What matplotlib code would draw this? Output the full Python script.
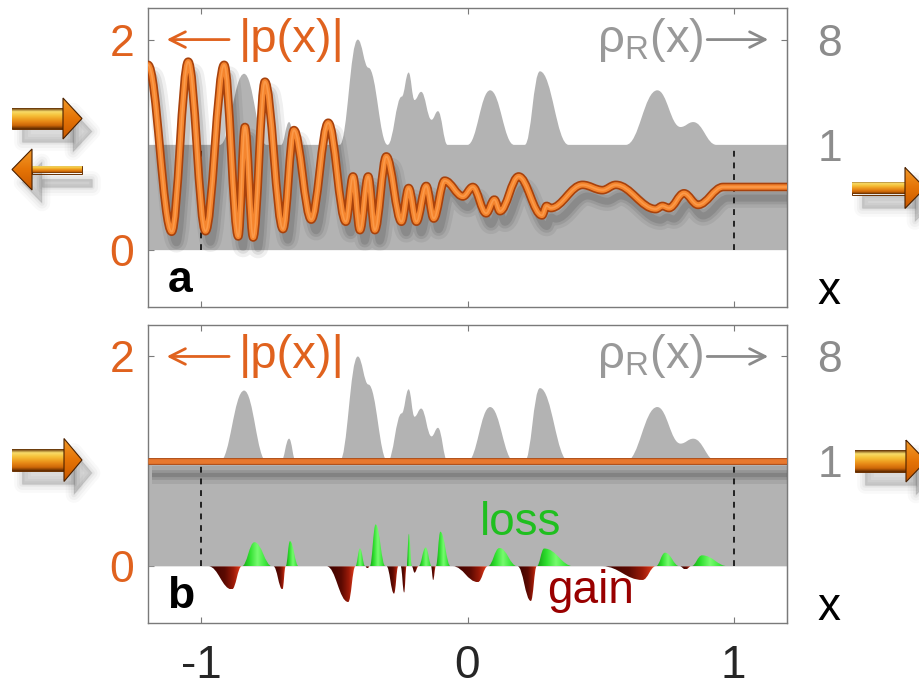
import numpy as np
import matplotlib.pyplot as plt
from matplotlib.path import Path
from matplotlib.patches import PathPatch, Polygon
from matplotlib.colors import LinearSegmentedColormap
import matplotlib.patheffects as pe

plt.rcParams['font.family'] = ['Liberation Sans', 'DejaVu Sans']
plt.rcParams['mathtext.fontset'] = 'custom'
plt.rcParams['mathtext.rm'] = 'Liberation Sans'
plt.rcParams['axes.unicode_minus'] = False

# |p(x)| in panel a, turning points
p_x = [-1.200, -1.111, -1.049, -0.984, -0.914, -0.861, -0.836, -0.805, -0.761, -0.693,
       -0.652, -0.587, -0.523, -0.457, -0.430, -0.404, -0.373, -0.348, -0.305, -0.248,
       -0.221, -0.192, -0.155, -0.127, -0.086, -0.017, 0.020, 0.070, 0.101, 0.122,
       0.192, 0.280, 0.297, 0.313, 0.432, 0.507, 0.557, 0.707, 0.732, 0.757,
       0.813, 0.866, 0.960, 1.200]
p_y = [1.76, 0.175, 1.79, 0.18, 1.76, 0.13, 1.17, 0.12, 1.60, 0.20,
       1.14, 0.29, 1.21, 0.27, 0.70, 0.19, 0.70, 0.19, 0.89, 0.27,
       0.59, 0.27, 0.61, 0.30, 0.66, 0.51, 0.60, 0.35, 0.48, 0.37,
       0.70, 0.33, 0.42, 0.40, 0.62, 0.57, 0.62, 0.39, 0.42, 0.40,
       0.54, 0.43, 0.60, 0.60]

# |p(x)| in panel b
pb_x = [-1.2, 1.2]
pb_y = [1.0, 1.0]

# rho_R(x), turning points of the profile (right axis is cube-root scaled)
rho_x = [-1.2, -0.93, -0.839, -0.755, -0.700, -0.670, -0.645, -0.480, -0.412, -0.372,
         -0.300, -0.247, -0.221, -0.199, -0.174, -0.135, -0.111, -0.075, 0.000, 0.085,
         0.175, 0.215, 0.272, 0.380, 0.595, 0.713, 0.800, 0.848, 0.935, 1.2]
rho_r = [1.0, 1.0, 4.7, 1.0, 1.0, 1.8, 1.0, 1.0, 8.0, 5.2,
         1.0, 3.1, 4.8, 2.9, 3.4, 1.9, 2.3, 1.0, 1.0, 3.5,
         1.0, 1.0, 4.9, 1.0, 1.0, 3.5, 1.6, 1.8, 1.0, 1.0]

# gain (<0) / loss (>0) lobes in panel b: start, peak, end, height
lobe_x0 = [-0.973, -0.848, -0.729, -0.683, -0.529, -0.421, -0.384, -0.367, -0.304, -0.251,
           -0.229, -0.209, -0.184, -0.137, -0.119, -0.055, 0.076, 0.188, 0.260, 0.507,
           0.707, 0.797, 0.840]
lobe_xp = [-0.885, -0.800, -0.695, -0.667, -0.448, -0.404, -0.376, -0.345, -0.276, -0.238,
           -0.220, -0.199, -0.157, -0.129, -0.102, 0.039, 0.120, 0.238, 0.288, 0.657,
           0.742, 0.819, 0.881]
lobe_x1 = [-0.848, -0.733, -0.683, -0.634, -0.421, -0.384, -0.367, -0.308, -0.260, -0.229,
           -0.209, -0.184, -0.134, -0.119, -0.063, 0.076, 0.188, 0.260, 0.400, 0.707,
           0.797, 0.840, 0.980]
lobe_h = [-0.22, 0.23, -0.22, 0.24, -0.34, 0.17, -0.02, 0.40, -0.26, -0.25,
          0.31, -0.06, 0.18, -0.13, 0.33, -0.15, 0.175, -0.33, 0.17, -0.13,
          0.13, -0.03, 0.105]

orange = '#e0621e'
band = '#b3b3b3'
grey_txt = '#8c8c8c'


def smooth(xs, ys, k=0.38):
    verts = [(xs[0], ys[0])]
    codes = [Path.MOVETO]
    for i in range(1, len(xs)):
        d = k * (xs[i] - xs[i - 1])
        verts += [(xs[i - 1] + d, ys[i - 1]), (xs[i] - d, ys[i]), (xs[i], ys[i])]
        codes += [Path.CURVE4] * 3
    return verts, codes


def grad_clip(ax, patch, colors, extent, vertical=False, z=3, origin='lower'):
    cmap = LinearSegmentedColormap.from_list('g', colors)
    arr = np.linspace(0, 1, 128)
    arr = arr.reshape(-1, 1) if vertical else arr.reshape(1, -1)
    im = ax.imshow(arr, cmap=cmap, extent=extent, aspect='auto', origin=origin,
                   interpolation='bilinear', zorder=z)
    im.set_clip_path(patch)


fig = plt.figure(figsize=(9.19, 6.89), dpi=100)
axa = fig.add_axes([148 / 919, 1 - 307 / 689, 639 / 919, 299 / 689])
axb = fig.add_axes([148 / 919, 1 - 623 / 689, 639 / 919, 298 / 689])

for ax, lab in [(axa, 'a'), (axb, 'b')]:
    ax.set_xlim(-1.2, 1.2)
    ax.set_ylim(-0.54, 2.30)
    ax.set_axisbelow(True)
    for s in ax.spines.values():
        s.set_color('#7a7a7a')
        s.set_linewidth(1.0)

    # rho_R profile as grey area from 0
    v, c = smooth(rho_x, list(np.cbrt(rho_r)), k=0.42)
    c[0] = Path.LINETO
    verts = [(-1.2, 0)] + v + [(1.2, 0), (-1.2, 0)]
    codes = [Path.MOVETO] + c + [Path.LINETO, Path.CLOSEPOLY]
    ax.add_patch(PathPatch(Path(verts, codes), facecolor=band, edgecolor='none', zorder=1))

    # boundaries of scattering region
    ax.plot([-1, -1], [0, 1], ls=(0, (3, 3)), color='#222222', lw=1.4, zorder=2)
    ax.plot([1, 1], [0, 1], ls=(0, (3, 3)), color='#222222', lw=1.4, zorder=2)

    ax.set_xticks([-1, 0, 1])
    ax.set_yticks([0, 2])
    ax.set_yticklabels(['0', '2'])
    ax.tick_params(axis='x', top=True, bottom=True, direction='in', length=4,
                   color='#7a7a7a', labelsize=33, labelcolor='#262626', pad=15)
    ax.tick_params(axis='y', left=True, right=False, direction='in', length=4,
                   color='#7a7a7a', labelsize=32, labelcolor=orange, pad=10)

    sec = ax.secondary_yaxis('right', functions=(lambda h: h ** 3, lambda r: np.cbrt(r)))
    sec.set_yticks([1, 8])
    sec.set_yticklabels(['1', '8'])
    sec.yaxis.set_minor_locator(plt.NullLocator())
    sec.tick_params(direction='in', length=4, color='#7a7a7a', labelsize=32,
                    labelcolor=grey_txt, pad=22)
    sec.spines['right'].set_color('#7a7a7a')
    t0 = sec.yaxis.get_major_ticks()[0]
    t0.tick1line.set_visible(False)
    t0.tick2line.set_visible(False)

    # labels
    ax.annotate('', xy=(-1.14, 2.0), xytext=(-0.885, 2.0),
                arrowprops=dict(arrowstyle='->', color=orange, lw=2, mutation_scale=28))
    ax.text(-0.858, 2.0, '|p(x)|', color=orange, fontsize=34, va='center', ha='left')
    ax.text(0.487, 2.0, 'ρ$_\\mathregular{R}$(x)', color='#999999', fontsize=34,
            va='center', ha='left')
    ax.annotate('', xy=(1.14, 2.0), xytext=(0.89, 2.0),
                arrowprops=dict(arrowstyle='->', color='#8a8a8a', lw=2, mutation_scale=28))
    ax.text(-1.127, -0.40, lab, fontsize=32, fontweight='bold', color='k', va='baseline')
    ax.text(1.356, -0.51, 'x', fontsize=33, color='k', va='baseline', ha='center',
            clip_on=False)

axa.tick_params(axis='x', labelbottom=False)

# panel a: |p(x)| tube with shadow
v, c = smooth(p_x, p_y, k=0.36)
tube = PathPatch(Path(v, c), fill=False, edgecolor='#f5852e', lw=3.8, zorder=5,
                 capstyle='round', joinstyle='round')
tube.set_path_effects([
    pe.SimpleLineShadow(offset=(3.5, -8), shadow_color='k', alpha=0.06, linewidth=14),
    pe.SimpleLineShadow(offset=(3.5, -8), shadow_color='k', alpha=0.08, linewidth=9),
    pe.SimpleLineShadow(offset=(3.5, -8), shadow_color='k', alpha=0.10, linewidth=5),
    pe.Stroke(linewidth=6.2, foreground='#a8420c'),
    pe.Normal(),
    pe.Stroke(linewidth=1.2, foreground='#fb9a4a'),
])
axa.add_patch(tube)

# panel b: flat |p| line with shadow
axb.plot(pb_x, pb_y, color='#e8782e', lw=3.4, zorder=5, solid_capstyle='butt',
         path_effects=[
             pe.SimpleLineShadow(offset=(3, -9.5), shadow_color='k', alpha=0.07, linewidth=13),
             pe.SimpleLineShadow(offset=(3, -9.5), shadow_color='k', alpha=0.10, linewidth=7),
             pe.SimpleLineShadow(offset=(3, -9.5), shadow_color='k', alpha=0.12, linewidth=3),
             pe.Stroke(linewidth=5, foreground='#b0501a'),
             pe.Normal()])

# panel b: gain / loss lobes
loss_cols = ['#15a015', '#2fe02f', '#78fa70', '#3ee83e', '#1cb41c']
gain_cols = ['#380400', '#4a0600', '#5c0a02', '#9a1a08', '#ee4422']
for x0, xp, x1, h in zip(lobe_x0, lobe_xp, lobe_x1, lobe_h):
    v, c = smooth([x0, xp, x1], [0, h, 0], k=0.42)
    patch = PathPatch(Path(v + [(x0, 0)], c + [Path.CLOSEPOLY]),
                      facecolor='none', edgecolor='none', zorder=3)
    axb.add_patch(patch)
    grad_clip(axb, patch, loss_cols if h > 0 else gain_cols,
              [x0, x1, min(0, h), max(0, h)])
axb.set_xlim(-1.2, 1.2)
axb.set_ylim(-0.54, 2.30)
axb.text(0.045, 0.30, 'loss', color='#1fbf1f', fontsize=33, va='baseline', zorder=6)
axb.text(0.300, -0.345, 'gain', color='#990000', fontsize=33, va='baseline', zorder=6)

# overlay for the flux arrows outside the panels (pixel coordinates)
ov = fig.add_axes([0, 0, 1, 1], zorder=-1)
ov.set_xlim(0, 919)
ov.set_ylim(689, 0)
ov.axis('off')

shaft_cols = ['#5a2800', '#f8dc6a', '#f6c43c', '#f0a424', '#e58414', '#cc6608', '#5a2800']
head_cols = ['#f29a2a', '#e57406', '#c85800']


def shadow(poly, dx=10, dy=13):
    pts = [(x + dx, y + dy) for x, y in poly]
    for lw, a in [(12, 0.025), (8, 0.03), (4, 0.04), (1, 0.05)]:
        ov.add_patch(Polygon(pts, closed=True, facecolor=(0, 0, 0, a),
                             edgecolor=(0, 0, 0, a), lw=lw, joinstyle='round'))


def flux_arrow(xa, xb, xc, yc, sh, hh, left=False):
    # shaft from xa to xb, head from xb to tip xc
    if left:
        shaft = [(xb, yc - sh), (xc, yc - sh), (xc, yc + sh), (xb, yc + sh)]
        head = [(xb, yc - hh), (xa, yc), (xb, yc + hh)]
    else:
        shaft = [(xa, yc - sh), (xb, yc - sh), (xb, yc + sh), (xa, yc + sh)]
        head = [(xb, yc - hh), (xc, yc), (xb, yc + hh)]
    shadow(shaft)
    shadow(head)
    sp = Polygon(shaft, closed=True, facecolor='none', edgecolor='#6a3000', lw=0.7)
    ov.add_patch(sp)
    xs = [p[0] for p in shaft]
    grad_clip(ov, sp, shaft_cols, [min(xs), max(xs), yc + sh, yc - sh],
              vertical=True, z=2, origin='upper')
    hp = Polygon(head, closed=True, facecolor='none', edgecolor='#4a2000', lw=0.8, zorder=3)
    ov.add_patch(hp)
    xs = [p[0] for p in head]
    grad_clip(ov, hp, head_cols, [min(xs), max(xs), yc + hh, yc - hh],
              vertical=True, z=2.5, origin='upper')


flux_arrow(12, 63, 82, 118.5, 10.5, 20.5)
flux_arrow(12, 32, 82, 169.5, 4, 20.5, left=True)
flux_arrow(852, 905, 925, 188, 6.5, 20.5)
flux_arrow(12, 64, 82, 460, 11, 21.5)
flux_arrow(855, 906, 926, 461, 11, 21)
ov.set_xlim(0, 919)
ov.set_ylim(689, 0)

fig.savefig('out.png', dpi=100)
